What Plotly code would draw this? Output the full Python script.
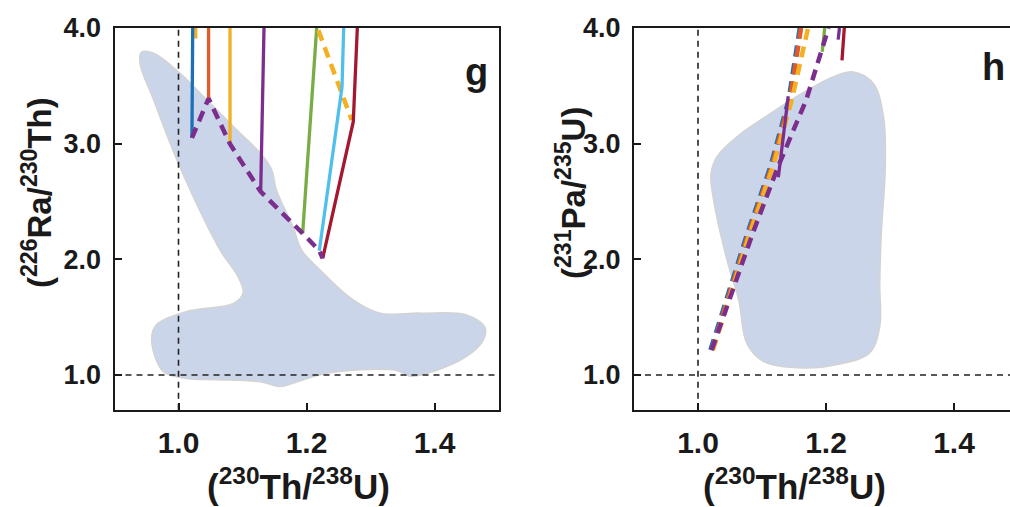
import plotly.graph_objects as go

# ---------------- data ----------------
# panel g : field region (230Th/238U, 226Ra/230Th)
g_region_x = [0.942, 0.962, 1.002, 1.044, 1.091, 1.1325, 1.146, 1.153, 1.179, 1.1925, 1.221, 1.273,
              1.315, 1.377, 1.450, 1.479, 1.476, 1.45, 1.398, 1.362, 1.34, 1.273, 1.22, 1.18, 1.159,
              1.13, 1.06, 1.013, 0.976, 0.958, 0.965, 1.013, 1.086, 1.101, 1.093, 1.065, 1.002, 0.961, 0.94]
g_region_y = [3.79, 3.78, 3.61, 3.38, 3.12, 2.89, 2.77, 2.60, 2.28, 2.08, 1.91, 1.65,
              1.535, 1.535, 1.52, 1.41, 1.30, 1.16, 1.03, 0.99, 1.04, 1.04, 1.0, 0.93, 0.90,
              0.94, 0.96, 0.97, 1.03, 1.30, 1.43, 1.55, 1.62, 1.71, 1.85, 2.08, 2.80, 3.38, 3.69]

# panel h : field region (230Th/238U, 231Pa/235U)
h_region_x = [1.2427, 1.274, 1.290, 1.2927, 1.2864, 1.284, 1.284, 1.268, 1.217, 1.165, 1.1026,
              1.0765, 1.0635, 1.0455, 1.0245, 1.0203, 1.030, 1.061, 1.113, 1.170, 1.212]
h_region_y = [3.62, 3.52, 3.23, 2.80, 2.225, 1.79, 1.42, 1.19, 1.09, 1.06, 1.115,
              1.27, 1.65, 1.99, 2.51, 2.74, 2.89, 3.06, 3.26, 3.46, 3.58]

# panel g model curves (solid)
g_blue_x = [1.0222, 1.021];           g_blue_y = [4.0, 3.05]
g_yelsmall_x = [1.027, 1.027];        g_yelsmall_y = [4.0, 3.91]
g_orange_x = [1.047, 1.047];          g_orange_y = [4.0, 3.39]
g_yellow_x = [1.0805, 1.0805];        g_yellow_y = [4.0, 2.997]
g_purple_x = [1.1336, 1.1284];        g_purple_y = [4.0, 2.585]
g_green_x = [1.2159, 1.194];          g_green_y = [4.0, 2.225]
g_lblue_x = [1.2581, 1.2555, 1.220];  g_lblue_y = [4.0, 3.49, 2.075]
g_red_x = [1.2794, 1.2731, 1.2253];   g_red_y = [4.0, 3.19, 2.009]
# panel g model curves (dashed)
g_yeldash_x = [1.2185, 1.2706];       g_yeldash_y = [3.98, 3.205]
g_purdash_x = [1.021, 1.047, 1.0805, 1.1284, 1.194, 1.220, 1.2253]
g_purdash_y = [3.05, 3.39, 2.997, 2.585, 2.225, 2.075, 2.009]

# panel h model curves
h_blue_x = [1.0194, 1.077, 1.113, 1.1415, 1.159];  h_blue_y = [1.216, 2.225, 2.80, 3.377, 4.0]
h_orange_x = [1.0214, 1.079, 1.115, 1.1435, 1.161]; h_orange_y = [1.216, 2.225, 2.80, 3.377, 4.0]
h_yellow_x = [1.0234, 1.081, 1.117, 1.1465, 1.172]; h_yellow_y = [1.216, 2.225, 2.80, 3.377, 4.0]
h_purdash_x = [1.0214, 1.0855, 1.125, 1.169, 1.204]; h_purdash_y = [1.216, 2.225, 2.80, 3.377, 4.0]
h_pursolid_x = [1.141, 1.1255];       h_pursolid_y = [3.41, 2.71]
h_pursmall_x = [1.221, 1.219];        h_pursmall_y = [4.0, 3.9]
h_green_x = [1.198, 1.194];           h_green_y = [4.0, 3.795]
h_red_x = [1.2286, 1.225];            h_red_y = [4.0, 3.72]

x_ticks = [1.0, 1.2, 1.4]
x_ticklabels = ["1.0", "1.2", "1.4"]
y_ticks = [1.0, 2.0, 3.0, 4.0]
y_ticklabels = ["1.0", "2.0", "3.0", "4.0"]

# ---------------- style ----------------
BLUE = "#1b70b7"; ORANGE = "#e05a2a"; YELLOW = "#f2b022"; PURPLE = "#7c2e8f"
GREEN = "#78ad43"; LBLUE = "#50bfec"; RED = "#a3182f"
FILL = "#cbd5ea"; EDGE = "#d3d3d3"
SANS = "Liberation Sans, Arial, Helvetica, sans-serif"
SW = 3.3
DW = 4.5
DASH = "11px,7px"

fig = go.Figure()

def region(x, y, xa, ya):
    fig.add_trace(go.Scatter(x=x + [x[0]], y=y + [y[0]], mode="lines", fill="toself",
                             fillcolor=FILL, line=dict(color=EDGE, width=1.5, shape="spline", smoothing=1.0),
                             xaxis=xa, yaxis=ya, hoverinfo="skip", showlegend=False))

def line(x, y, color, xa, ya, dash=None, width=SW):
    fig.add_trace(go.Scatter(x=x, y=y, mode="lines",
                             line=dict(color=color, width=width, dash=dash if dash else "solid"),
                             xaxis=xa, yaxis=ya, hoverinfo="skip", showlegend=False))

def refs(xa, ya, xmax):
    line([1.0, 1.0], [0.7, 4.0], "#222222", xa, ya, dash="6px,5px", width=1.6)
    line([0.9, xmax], [1.0, 1.0], "#222222", xa, ya, dash="6px,5px", width=1.6)

# panel g
region(g_region_x, g_region_y, "x", "y")
refs("x", "y", 1.5)
line(g_yelsmall_x, g_yelsmall_y, YELLOW, "x", "y")
line(g_blue_x, g_blue_y, BLUE, "x", "y")
line(g_orange_x, g_orange_y, ORANGE, "x", "y")
line(g_yellow_x, g_yellow_y, YELLOW, "x", "y")
line(g_purple_x, g_purple_y, PURPLE, "x", "y")
line(g_green_x, g_green_y, GREEN, "x", "y")
line(g_yeldash_x, g_yeldash_y, YELLOW, "x", "y", dash=DASH, width=DW)
line(g_lblue_x, g_lblue_y, LBLUE, "x", "y")
line(g_red_x, g_red_y, RED, "x", "y")
line(g_purdash_x, g_purdash_y, PURPLE, "x", "y", dash=DASH, width=DW)

# panel h
region(h_region_x, h_region_y, "x2", "y2")
refs("x2", "y2", 1.4875)
line(h_green_x, h_green_y, GREEN, "x2", "y2")
line(h_red_x, h_red_y, RED, "x2", "y2")
line(h_pursmall_x, h_pursmall_y, PURPLE, "x2", "y2")
line(h_blue_x, h_blue_y, BLUE, "x2", "y2", dash=DASH, width=DW)
line(h_orange_x, h_orange_y, ORANGE, "x2", "y2", dash=DASH, width=DW)
line(h_yellow_x, h_yellow_y, YELLOW, "x2", "y2", dash=DASH, width=DW)
line(h_purdash_x, h_purdash_y, PURPLE, "x2", "y2", dash=DASH, width=DW)
line(h_pursolid_x, h_pursolid_y, PURPLE, "x2", "y2")

ydom = [1 - 409.7 / 507, 1 - 28 / 507]
xax = dict(showgrid=False, zeroline=False, showline=True, linecolor="#1a1a1a", linewidth=2,
           mirror=True, ticks="inside", ticklen=7, tickwidth=2, tickcolor="#1a1a1a",
           tickvals=x_ticks, ticktext=x_ticklabels, ticklabelstandoff=5, automargin=False,
           tickfont=dict(family=SANS, size=30, color="#1a1a1a", weight="bold"))
yax = dict(showgrid=False, zeroline=False, showline=True, linecolor="#1a1a1a", linewidth=2,
           ticks="inside", ticklen=7, tickwidth=2, tickcolor="#1a1a1a",
           tickvals=y_ticks, ticktext=y_ticklabels, range=[0.7, 4.0], domain=ydom,
           ticklabelstandoff=6, automargin=False,
           tickfont=dict(family=SANS, size=27, color="#1a1a1a", weight="bold"))

fig.update_layout(
    width=1010, height=507, margin=dict(l=0, r=0, t=0, b=0, pad=0, autoexpand=False),
    plot_bgcolor="white", paper_bgcolor="white", showlegend=False,
    xaxis=dict(xax, domain=[114.5 / 1010, 498.5 / 1010], range=[0.9, 1.5]),
    yaxis=dict(yax, anchor="x", mirror=True),
    xaxis2=dict(xax, domain=[634 / 1010, 1.0], range=[0.9, 1.4875], anchor="y2"),
    yaxis2=dict(yax, anchor="x2", mirror=False),
)

def ann(text, x, y, size, angle=0):
    fig.add_annotation(text=text, x=x / 1010, y=1 - y / 507, xref="paper", yref="paper",
                       showarrow=False, textangle=angle, xanchor="center", yanchor="middle",
                       font=dict(family=SANS, size=size, color="#1a1a1a", weight="bold"))

ann("(<sup>226</sup>Ra/<sup>230</sup>Th)", 37, 193, 33, -90)
ann("(<sup>231</sup>Pa/<sup>235</sup>U)", 571, 193, 33, -90)
ann("(<sup>230</sup>Th/<sup>238</sup>U)", 298, 484, 35)
ann("(<sup>230</sup>Th/<sup>238</sup>U)", 794, 484, 35)
ann("g", 476, 72, 38)
ann("h", 993, 67, 38)

fig.write_html("out.html")
